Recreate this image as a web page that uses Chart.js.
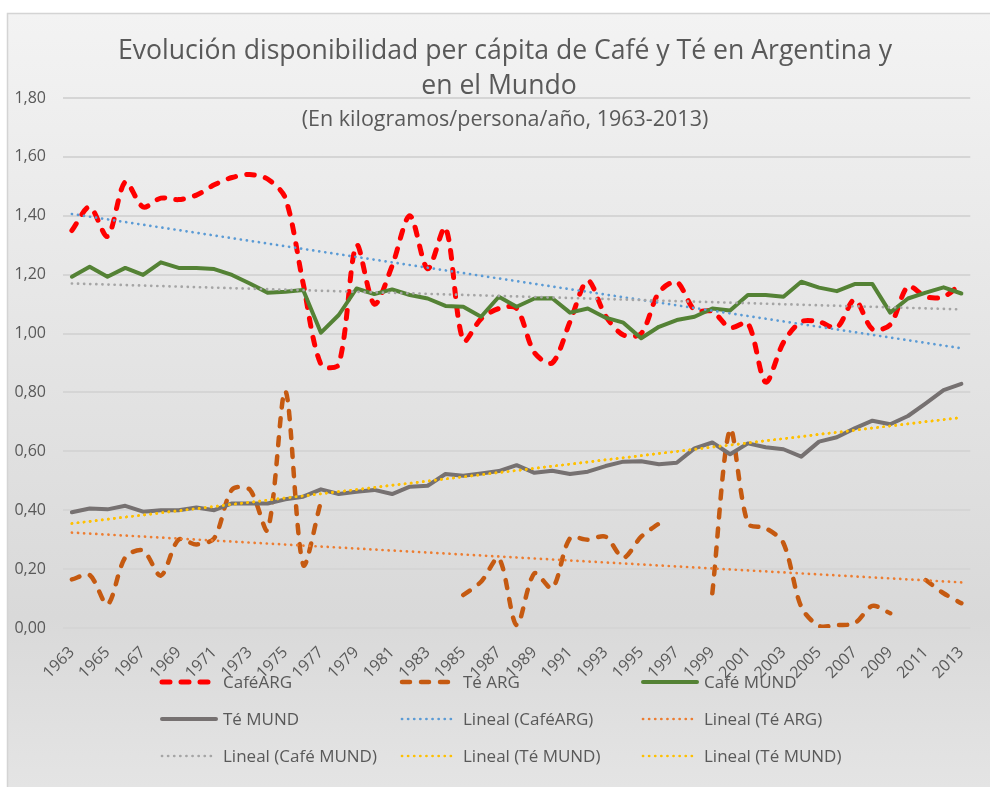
<!DOCTYPE html>
<html lang="es">
<head>
<meta charset="utf-8">
<title>Café y Té: Argentina y Mundo</title>
<script src="https://cdn.jsdelivr.net/npm/chart.js@4"></script>
<style>
  html, body { margin: 0; padding: 0; background: #fff; overflow: hidden; }
  #wrap { position: relative; width: 990px; height: 787px; }
</style>
</head>
<body>
<div id="wrap"><canvas id="chart"></canvas></div>
<script>
const years = [
  '1963', '1964', '1965', '1966', '1967', '1968', '1969', '1970', '1971', '1972',
  '1973', '1974', '1975', '1976', '1977', '1978', '1979', '1980', '1981', '1982',
  '1983', '1984', '1985', '1986', '1987', '1988', '1989', '1990', '1991', '1992',
  '1993', '1994', '1995', '1996', '1997', '1998', '1999', '2000', '2001', '2002',
  '2003', '2004', '2005', '2006', '2007', '2008', '2009', '2010', '2011', '2012',
  '2013'
];

// kg por persona y año
const cafeArg = [
  1.35, 1.43, 1.33, 1.515, 1.43, 1.46, 1.455, 1.47, 1.505, 1.53,
  1.54, 1.525, 1.46, 1.17, 0.895, 0.895, 1.30, 1.10, 1.23, 1.40,
  1.22, 1.36, 0.975, 1.05, 1.085, 1.085, 0.935, 0.90, 1.04, 1.18,
  1.06, 0.995, 1.00, 1.14, 1.175, 1.08, 1.075, 1.02, 1.035, 0.835,
  0.97, 1.04, 1.04, 1.02, 1.115, 1.015, 1.03, 1.16, 1.125, 1.125,
  1.17
];

const teArg = [
  0.165, 0.18, 0.08, 0.24, 0.263, 0.178, 0.30, 0.284, 0.305, 0.47,
  0.47, 0.333, 0.805, 0.215, 0.43, null, null, null, null, null,
  null, null, 0.112, 0.157, 0.237, 0.01, 0.186, 0.135, 0.305, 0.30,
  0.31, 0.239, 0.31, 0.355, null, null, 0.118, 0.675, 0.355, 0.339,
  0.288, 0.072, 0.007, 0.01, 0.016, 0.075, 0.05, null, 0.163, 0.118,
  0.084
];

const cafeMund = [
  1.193, 1.227, 1.193, 1.223, 1.199, 1.242, 1.223, 1.223, 1.219, 1.199,
  1.170, 1.139, 1.142, 1.148, 1.003, 1.063, 1.153, 1.134, 1.150, 1.131,
  1.119, 1.094, 1.091, 1.057, 1.125, 1.091, 1.119, 1.120, 1.071, 1.085,
  1.054, 1.037, 0.984, 1.023, 1.046, 1.057, 1.085, 1.078, 1.131, 1.131,
  1.125, 1.176, 1.156, 1.144, 1.168, 1.168, 1.071, 1.119, 1.139, 1.157,
  1.136
];

const teMund = [
  0.393, 0.406, 0.403, 0.415, 0.395, 0.400, 0.400, 0.409, 0.400, 0.423,
  0.423, 0.423, 0.437, 0.446, 0.471, 0.455, 0.463, 0.469, 0.455, 0.480,
  0.483, 0.523, 0.517, 0.525, 0.533, 0.553, 0.527, 0.534, 0.523, 0.531,
  0.550, 0.565, 0.566, 0.556, 0.561, 0.610, 0.630, 0.590, 0.627, 0.614,
  0.607, 0.582, 0.633, 0.648, 0.678, 0.704, 0.692, 0.720, 0.763, 0.808,
  0.829
];

// tendencias lineales: valor en 1963 y en 2013
const trendCafeArg = [1.406, 0.950];
const trendTeArg = [0.324, 0.155];
const trendCafeMund = [1.170, 1.082];
const trendTeMund = [0.355, 0.715];

const textColor = '#595959';
const fontFamily = '"Open Sans", "DejaVu Sans", sans-serif';

function trendPoints(ends) {
  return [
    { x: years[0], y: ends[0] },
    { x: years[years.length - 1], y: ends[1] }
  ];
}

function dashed(label, data, color, width) {
  return {
    label, data,
    borderColor: color, backgroundColor: color,
    borderWidth: width, borderDash: [8, 11], borderCapStyle: 'round',
    tension: 0.3, pointRadius: 0, spanGaps: false
  };
}

function solid(label, data, color) {
  return {
    label, data,
    borderColor: color, backgroundColor: color,
    borderWidth: 4, borderJoinStyle: 'round', borderCapStyle: 'round',
    tension: 0, pointRadius: 0
  };
}

function dotted(label, ends, color) {
  return {
    label, data: trendPoints(ends),
    borderColor: color, backgroundColor: color,
    borderWidth: 2.7, borderDash: [0.1, 6], borderCapStyle: 'round',
    tension: 0, pointRadius: 0, spanGaps: true
  };
}

// fondo gris degradado con borde fino
const panelBackground = {
  id: 'panelBackground',
  beforeDraw(chart) {
    const ctx = chart.ctx;
    const g = ctx.createLinearGradient(0, 13, 0, 787);
    g.addColorStop(0, '#f3f3f3');
    g.addColorStop(0.78, '#d9d9d9');
    g.addColorStop(1, '#e4e4e4');
    ctx.save();
    ctx.fillStyle = g;
    ctx.fillRect(7, 13, 990, 787);
    ctx.strokeStyle = '#d4d4d4';
    ctx.lineWidth = 1.5;
    ctx.strokeRect(7.5, 13.5, 990, 787);
    ctx.restore();
  }
};

// título, subtítulo y leyenda en tres columnas
const titleAndLegend = {
  id: 'titleAndLegend',
  afterDraw(chart) {
    const ctx = chart.ctx;
    ctx.save();
    ctx.fillStyle = textColor;
    ctx.textAlign = 'center';
    ctx.textBaseline = 'alphabetic';
    ctx.font = '26.6px ' + fontFamily;
    ctx.fillText('Evolución disponibilidad per cápita de Café y Té en Argentina y', 505, 59);
    ctx.fillText('en el Mundo', 499, 94);
    ctx.font = '21.5px ' + fontFamily;
    ctx.fillText('(En kilogramos/persona/año, 1963-2013)', 505, 126);

    const colX = [160, 400, 641];
    const rowY = [682, 719, 756];
    ctx.textAlign = 'left';
    ctx.textBaseline = 'middle';
    ctx.font = '17px ' + fontFamily;
    chart.data.datasets.forEach((ds, i) => {
      const x = colX[i % 3];
      const y = rowY[Math.floor(i / 3)];
      ctx.save();
      ctx.strokeStyle = ds.borderColor;
      ctx.lineWidth = ds.borderWidth;
      ctx.lineCap = ds.borderCapStyle || 'butt';
      ctx.setLineDash(ds.borderDash || []);
      ctx.beginPath();
      ctx.moveTo(x + 2, y);
      ctx.lineTo(x + 56, y);
      ctx.stroke();
      ctx.restore();
      ctx.fillText(ds.label, x + 63, y + 1);
    });
    ctx.restore();
  }
};

new Chart(document.getElementById('chart'), {
  type: 'line',
  data: {
    labels: years,
    datasets: [
      dashed('CaféARG', cafeArg, '#ff0000', 5),
      dashed('Té ARG', teArg, '#c55a11', 4.5),
      solid('Café MUND', cafeMund, '#548235'),
      solid('Té MUND', teMund, '#767171'),
      dotted('Lineal (CaféARG)', trendCafeArg, '#5b9bd5'),
      dotted('Lineal (Té ARG)', trendTeArg, '#ed7d31'),
      dotted('Lineal (Café MUND)', trendCafeMund, '#a5a5a5'),
      dotted('Lineal (Té MUND)', trendTeMund, '#ffc000'),
      dotted('Lineal (Té MUND)', trendTeMund, '#ffc000')
    ].map((ds, i) => Object.assign(ds, { order: 9 - i }))
  },
  plugins: [panelBackground, titleAndLegend],
  options: {
    responsive: true,
    maintainAspectRatio: false,
    animation: false,
    layout: { padding: { left: 12, right: 6, top: 98, bottom: 0 } },
    plugins: {
      legend: { display: false },
      title: { display: false },
      tooltip: { enabled: false }
    },
    scales: {
      x: {
        offset: true,
        grid: { display: false, drawTicks: false },
        border: { display: false },
        afterFit(scale) { scale.height = 159; },
        ticks: {
          autoSkip: false,
          minRotation: 45,
          maxRotation: 45,
          padding: 15,
          color: textColor,
          font: { family: fontFamily, size: 16 },
          callback(value, index) {
            return index % 2 === 0 ? years[index] : '';
          }
        }
      },
      y: {
        min: 0,
        max: 1.8,
        grid: { color: '#d5d5d5', lineWidth: 2, drawTicks: false },
        border: { display: false },
        afterFit(scale) { scale.width = 51; },
        ticks: {
          stepSize: 0.2,
          padding: 17,
          color: textColor,
          font: { family: fontFamily, size: 16 },
          callback(value) {
            return value.toFixed(2).replace('.', ',');
          }
        }
      }
    }
  }
});
</script>
</body>
</html>
